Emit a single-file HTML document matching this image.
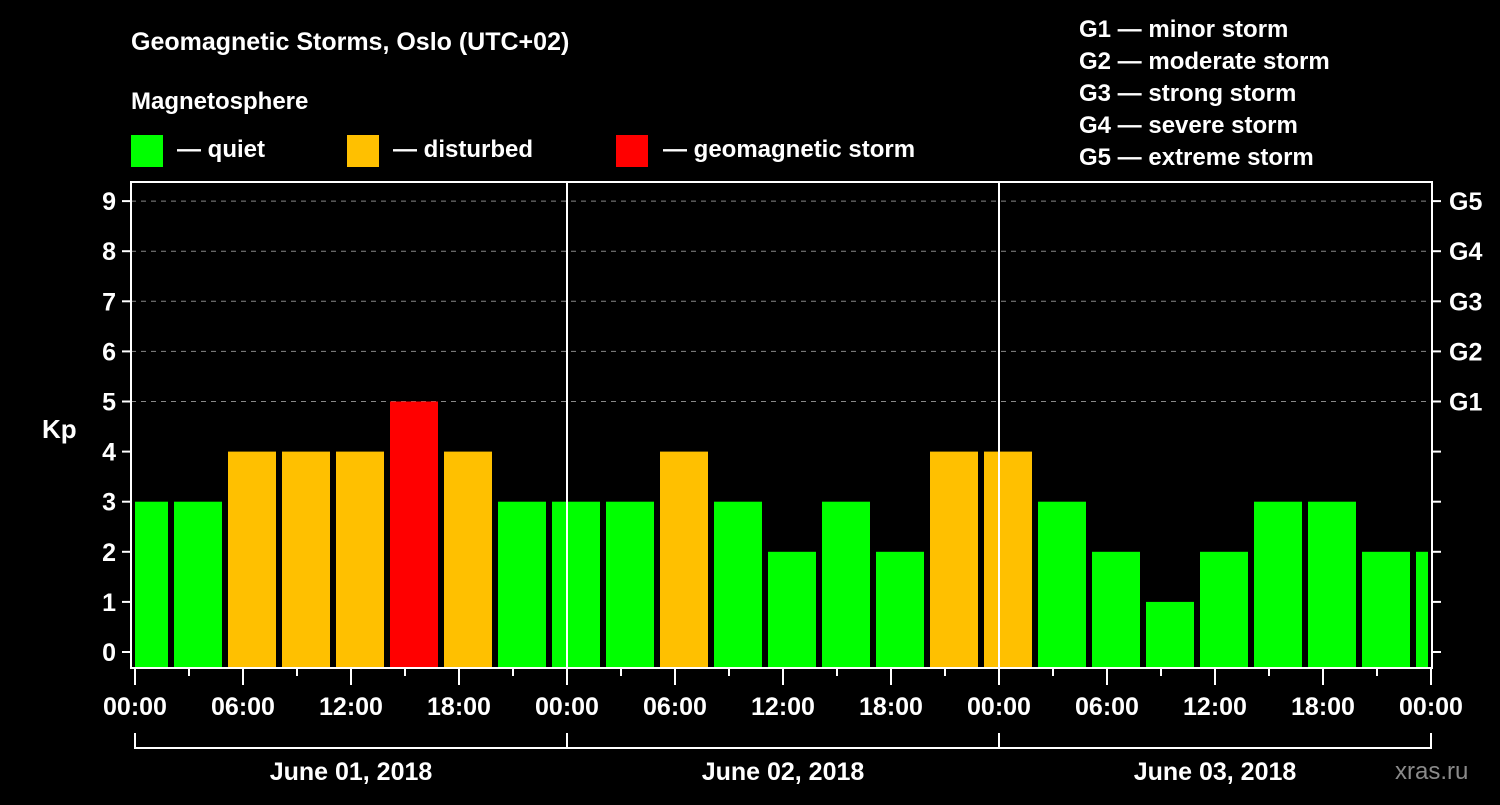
<!DOCTYPE html>
<html><head><meta charset="utf-8"><style>
body{margin:0;background:#000;width:1500px;height:800px;overflow:hidden}
svg text{font-family:"Liberation Sans",sans-serif;font-weight:bold;fill:#fff}
</style></head><body>
<svg id="c" width="1500" height="800" xmlns="http://www.w3.org/2000/svg">
<text x="131" y="50" font-size="25">Geomagnetic Storms, Oslo (UTC+02)</text>
<text x="131" y="109" font-size="24">Magnetosphere</text>
<g><rect x="131" y="135" width="32" height="32" fill="#00ff00"/><text x="177" y="157" font-size="24">— quiet</text></g>
<g><rect x="347" y="135" width="32" height="32" fill="#ffc000"/><text x="393" y="157" font-size="24">— disturbed</text></g>
<g><rect x="616" y="135" width="32" height="32" fill="#ff0000"/><text x="663" y="157" font-size="24">— geomagnetic storm</text></g>
<g font-size="24">
<text x="1079" y="37">G1 — minor storm</text><text x="1079" y="69">G2 — moderate storm</text><text x="1079" y="101">G3 — strong storm</text><text x="1079" y="133">G4 — severe storm</text><text x="1079" y="165">G5 — extreme storm</text></g>
<text x="42" y="438" font-size="26">Kp</text>
<text x="1395" y="779" font-size="24" fill="#888" style="fill:#8a8a8a;font-weight:normal">xras.ru</text>
<g id="plot"></g>
</svg>
<script>
const kpValues=[3,3,4,4,4,5,4,3,3,3,4,3,2,3,2,4,4,3,2,1,2,3,3,2,2];
const yTicks=[0,1,2,3,4,5,6,7,8,9];
const gLabels=["G1","G2","G3","G4","G5"];
const xLabels=["00:00","06:00","12:00","18:00","00:00","06:00","12:00","18:00","00:00","06:00","12:00","18:00","00:00"];
const dayLabels=["June 01, 2018","June 02, 2018","June 03, 2018"];
const NS="http://www.w3.org/2000/svg";
const g=document.getElementById('plot');
const X0=135,PXH=18,Y0=652,PXK=50.1,BOT=668,TOP=182,RIGHT=1432;
const xs=h=>X0+h*PXH, ys=k=>Y0-k*PXK;
function mk(t,a,p){const e=document.createElementNS(NS,t);for(const k in a)e.setAttribute(k,a[k]);(p||g).appendChild(e);return e;}
// grid
[5,6,7,8,9].forEach(k=>{const l=mk('line',{x1:131,x2:RIGHT,y1:ys(k),y2:ys(k),stroke:'#888','stroke-dasharray':'5,5','stroke-width':1});

});
// bars
kpValues.forEach((v,i)=>{let x1=xs(i*3)-15,x2=x1+48;x1=Math.max(x1,X0);x2=Math.min(x2,1428);
const c=v>=5?'#ff0000':v>=4?'#ffc000':'#00ff00';
const r=mk('rect',{x:x1,y:ys(v),width:x2-x1,height:BOT-ys(v),fill:c});

});
// day lines
[1,2].forEach(d=>{const l=mk('line',{x1:xs(d*24),x2:xs(d*24),y1:TOP,y2:BOT,stroke:'#fff','stroke-width':2});

});
// frame
const f=mk('path',{d:`M131 ${BOT} V${TOP} H${RIGHT} V${BOT} Z`,fill:'none',stroke:'#fff','stroke-width':2});


// y ticks
yTicks.forEach(k=>{mk('line',{x1:122,x2:131,y1:ys(k),y2:ys(k),stroke:'#fff','stroke-width':2});
mk('line',{x1:RIGHT,x2:RIGHT+9,y1:ys(k),y2:ys(k),stroke:'#fff','stroke-width':2});
const t=mk('text',{x:116,y:ys(k)+9,'font-size':25,'text-anchor':'end'});t.textContent=k;

});
gLabels.forEach((s,i)=>{const t=mk('text',{x:1449,y:ys(5+i)+9,'font-size':25});t.textContent=s;

});
// x ticks
for(let h=0;h<=72;h+=3){const major=h%6===0;mk('line',{x1:xs(h),x2:xs(h),y1:BOT,y2:BOT+(major?17:8),stroke:'#fff','stroke-width':2});}
xLabels.forEach((s,i)=>{const t=mk('text',{x:xs(i*6),y:715,'font-size':25,'text-anchor':'middle'});t.textContent=s;

});
// day bracket
mk('path',{d:`M${xs(0)} 733 V748 H${xs(72)} V733 M${xs(24)} 733 V748 M${xs(48)} 733 V748`,fill:'none',stroke:'#fff','stroke-width':2});
dayLabels.forEach((s,i)=>{const t=mk('text',{x:xs(i*24+12),y:780,'font-size':25,'text-anchor':'middle'});t.textContent=s;

});
</script>
</body></html>
